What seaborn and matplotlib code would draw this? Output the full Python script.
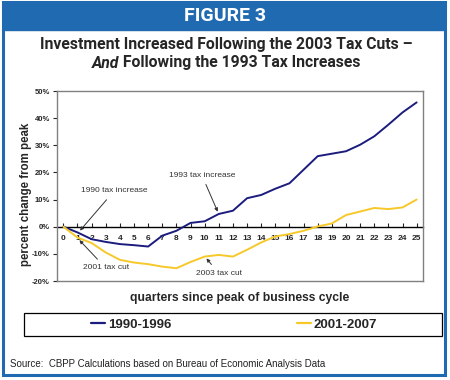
import numpy as np
import pandas as pd
import seaborn as sns
import matplotlib.pyplot as plt
from matplotlib.patches import Rectangle

# quarters since peak
quarters = list(range(0, 26))
inv_1990 = [0, -2.1, -4.6, -5.6, -6.4, -6.8, -7.3, -3.3, -1.5, 1.4, 2.0, 4.7, 5.9,
            10.5, 11.7, 14.0, 16.0, 21.0, 26.0, 26.9, 27.8, 30.2, 33.3, 37.6, 42.1, 45.8]
inv_2001 = [0, -4.0, -6.0, -9.5, -12.2, -13.2, -13.8, -14.7, -15.3, -13.0, -11.0, -10.4, -11.0,
            -8.5, -5.8, -3.6, -2.7, -1.5, 0.1, 1.2, 4.3, 5.6, 6.9, 6.5, 7.1, 10.0]
series_names = ["1990-1996", "2001-2007"]
y_ticks = [-20, -10, 0, 10, 20, 30, 40, 50]

BLUE = "#1F6AB0"
NAVY = "#1C1C7E"
GOLD = "#F7C829"

sns.set_style("white")
plt.rcParams['font.family'] = ['Liberation Sans', 'DejaVu Sans']

df = pd.DataFrame({
    "quarter": quarters * 2,
    "pct": inv_1990 + inv_2001,
    "period": [series_names[0]] * len(quarters) + [series_names[1]] * len(quarters),
})

W, H = 450, 380
fig = plt.figure(figsize=(4.5, 3.8), dpi=100)

# frame + header bar
fig.patches.append(Rectangle((3 / W, 5 / H), 442 / W, 373 / H, transform=fig.transFigure,
                             fill=False, edgecolor=BLUE, linewidth=2.2))
fig.patches.append(Rectangle((3 / W, 1 - 30 / H), 442 / W, 28 / H, transform=fig.transFigure,
                             facecolor=BLUE, edgecolor=BLUE))
fig.text(225 / W, 1 - 16 / H, "FIGURE 3", color="white", fontsize=14, fontweight="bold",
         family="Roboto", ha="center", va="center")
fig.text(226 / W, 1 - 45 / H, "Investment Increased Following the 2003 Tax Cuts \u2013",
         fontsize=11.3, fontweight="bold", family="Roboto", ha="center", va="center")

# second title line: italic "And" + normal rest, centred together
t_and = fig.text(0, 1 - 63 / H, "And", fontsize=11.3, fontweight="bold", style="italic",
                 family="Roboto", ha="left", va="center")
t_rest = fig.text(0, 1 - 63 / H, " Following the 1993 Tax Increases", fontsize=11.3,
                  fontweight="bold", family="Roboto", ha="left", va="center")
r = fig.canvas.get_renderer()
w1 = t_and.get_window_extent(r).width
w2 = t_rest.get_window_extent(r).width
x0 = 226 - (w1 + w2) / 2
t_and.set_x(x0 / W)
t_rest.set_x((x0 + w1) / W)

ax = fig.add_axes([57 / W, 1 - 281 / H, 366 / W, 190 / H])
sns.lineplot(data=df, x="quarter", y="pct", hue="period", palette=[NAVY, GOLD],
             linewidth=1.4, ax=ax, legend=False)

ax.set_xlim(-0.45, 25.45)
ax.set_ylim(-20, 50)
ax.set_yticks(y_ticks)
ax.set_yticklabels([f"{v}%" for v in y_ticks], fontsize=5.5, fontweight="bold")
ax.tick_params(axis="y", length=3, width=0.8, direction="out", left=True, pad=2)
ax.set_xticks([])
ax.set_xlabel("")
ax.set_ylabel("percent change from peak", fontsize=8.3, fontweight="bold")
ax.yaxis.set_label_coords(-0.068, 0.458)
for s in ax.spines.values():
    s.set_color("#808080")
    s.set_linewidth(1.0)

# x axis sitting on the zero line
zero_frac = 20 / 70
sec = ax.secondary_xaxis(zero_frac)
sec.set_xticks(quarters)
sec.set_xticklabels([str(q) for q in quarters], fontsize=6, fontweight="bold")
sec.tick_params(axis="x", direction="in", length=3, width=0.8, pad=6)
sec.spines["bottom"].set_color("black")
sec.spines["bottom"].set_linewidth(1.0)

fig.text(240 / W, 1 - 298 / H, "quarters since peak of business cycle", fontsize=8.7,
         fontweight="bold", ha="center", va="center")

# annotations
arrow = dict(arrowstyle="-|>", color="#333333", lw=0.7, mutation_scale=5)
ax.annotate("1990 tax increase", xy=(1.05, -2.2), xytext=(3.6, 13.2), fontsize=6,
            color="#333333", ha="center", va="center", arrowprops=arrow)
ax.annotate("1993 tax increase", xy=(11.0, 4.6), xytext=(9.8, 19.0), fontsize=6,
            color="#333333", ha="center", va="center", arrowprops=arrow)
ax.annotate("2001 tax cut", xy=(1.0, -4.2), xytext=(3.0, -15.2), fontsize=6,
            color="#333333", ha="center", va="center", arrowprops=arrow)
ax.annotate("2003 tax cut", xy=(10.0, -10.9), xytext=(11.0, -17.2), fontsize=6,
            color="#333333", ha="center", va="center", arrowprops=arrow)

# legend box below the chart
fig.patches.append(Rectangle((24 / W, 1 - 336 / H), 418 / W, 23 / H, transform=fig.transFigure,
                             fill=False, edgecolor="black", linewidth=0.9))
handles = [plt.Line2D([], [], color=NAVY, lw=1.6), plt.Line2D([], [], color=GOLD, lw=1.6)]
leg = fig.legend(handles, series_names, ncol=2, loc="center",
                 bbox_to_anchor=(234 / W, 1 - 324.5 / H),
                 prop={"size": 9.5, "weight": "bold"}, handlelength=1.1, handletextpad=0.2,
                 columnspacing=9.5, frameon=False, borderaxespad=0)

fig.text(10 / W, 1 - 364 / H, "Source:  CBPP Calculations based on Bureau of Economic Analysis Data",
         fontsize=7, color="#222222", ha="left", va="center")

fig.savefig("out.png", dpi=100)
